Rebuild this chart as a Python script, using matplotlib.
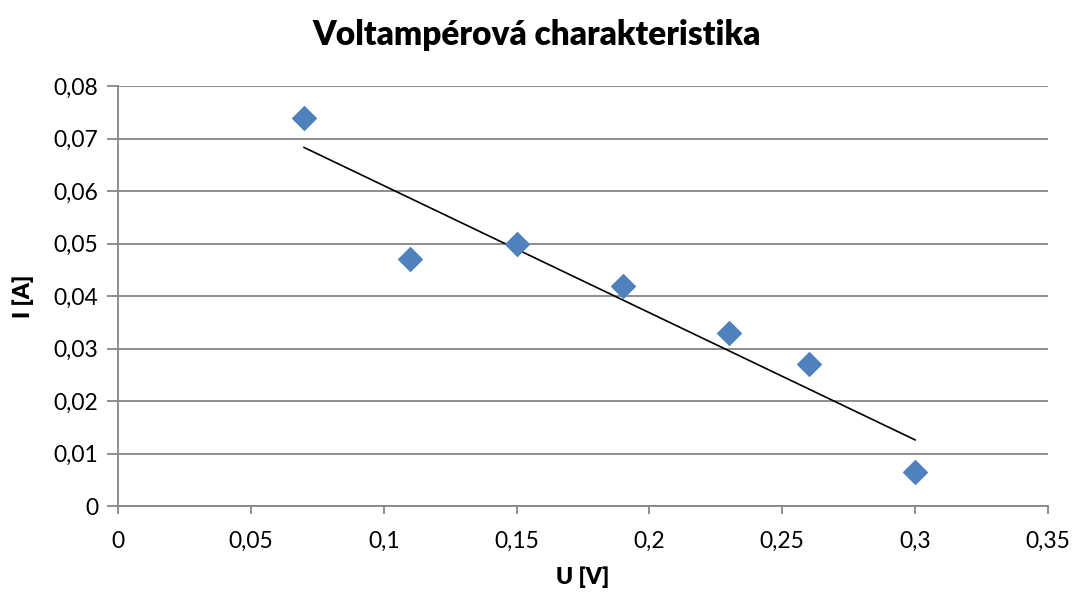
import numpy as np
import matplotlib
matplotlib.use("Agg")
import matplotlib.pyplot as plt
from matplotlib.ticker import FuncFormatter, MultipleLocator

plt.rcParams['font.family'] = ['Lato', 'DejaVu Sans']

# naměřené hodnoty
napeti = [0.07, 0.11, 0.15, 0.19, 0.23, 0.26, 0.30]       # U [V]
proud = [0.074, 0.047, 0.050, 0.042, 0.033, 0.027, 0.0065]  # I [A]

# lineární spojnice trendu
k, q = np.polyfit(napeti, proud, 1)
u_fit = np.array([min(napeti), max(napeti)])
i_fit = k * u_fit + q

fig = plt.figure(figsize=(10.73, 5.94), dpi=100)
ax = fig.add_axes([0.110, 0.1481, 0.8667, 0.7071])

sede = '#868686'
ax.set_xlim(0, 0.35)
ax.set_ylim(0, 0.08)
ax.yaxis.set_major_locator(MultipleLocator(0.01))
ax.xaxis.set_major_locator(MultipleLocator(0.05))
ax.grid(axis='y', color=sede, linewidth=1.3)
ax.set_axisbelow(True)

ax.plot(u_fit, i_fit, color='black', linewidth=1.2, zorder=2)
ax.scatter(napeti, proud, marker='D', s=145, color='#4F81BD', edgecolors='#4F81BD', zorder=3)

def carka(x, pos):
    s = ('%.2f' % x).rstrip('0').rstrip('.')
    return s.replace('.', ',')

ax.xaxis.set_major_formatter(FuncFormatter(carka))
ax.yaxis.set_major_formatter(FuncFormatter(carka))

for s in ['top', 'right']:
    ax.spines[s].set_visible(False)
for s in ['left', 'bottom']:
    ax.spines[s].set_color(sede)
    ax.spines[s].set_linewidth(1.3)
ax.tick_params(axis='y', length=8, width=1.3, color=sede, labelsize=16.5, pad=6)
ax.tick_params(axis='x', length=6, width=1.3, color=sede, labelsize=16.5, pad=12)

ax.set_xlabel('U [V]', fontsize=16.5, fontweight='heavy', labelpad=10)
ax.set_ylabel('I [A]', fontsize=16.5, fontweight='heavy', labelpad=14)
fig.suptitle('Voltampérová charakteristika', fontsize=24, fontweight='heavy', y=0.968)

fig.savefig('out.png', dpi=100)
